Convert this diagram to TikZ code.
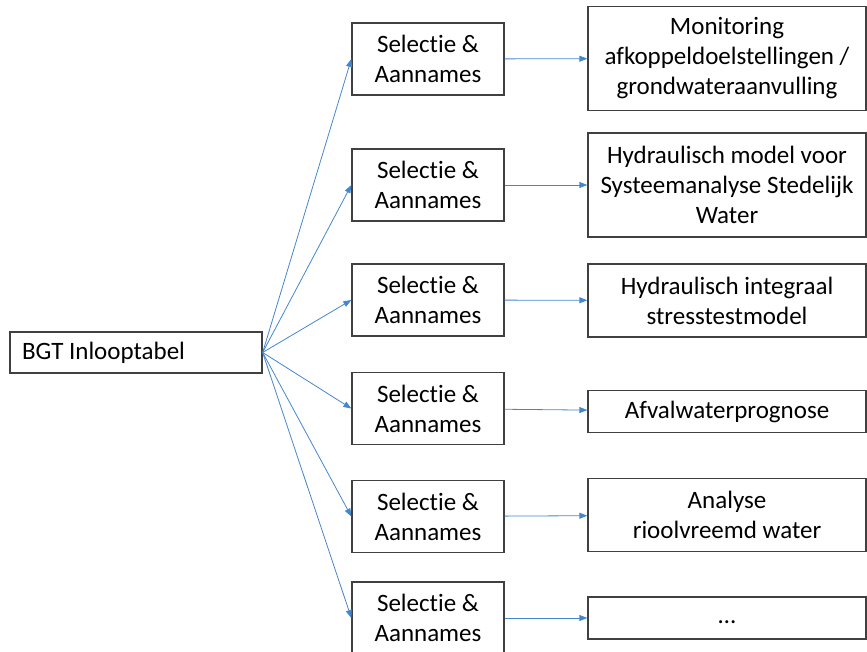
\documentclass[tikz,border=0pt]{standalone}
\usepackage{fontspec}
\setmainfont{Carlito}[Ligatures=NoCommon]
\tikzset{
  box/.style={draw=black!75, line width=1.3pt, inner sep=0pt, align=center,
    font=\fontsize{25}{30}\selectfont},
  sel/.style={box, minimum width=152pt, minimum height=72pt},
  doel/.style={box, minimum width=278pt},
  pijl/.style={->, >={Triangle[length=8pt,width=6pt]}, draw={rgb,255:red,68;green,134;blue,206}, line width=0.8pt}
}
\usetikzlibrary{arrows.meta}
\begin{document}
\begin{tikzpicture}[x=1pt,y=-1pt]
    \useasboundingbox (0,0) rectangle (867,652);
    \node [box, minimum width=252pt, minimum height=41pt] (bgt) at (136,352.5) {\makebox[228pt][l]{BGT Inlooptabel}};
    \node [sel] (s1) at (428,59) {Selectie \&\\Aannames};
    \node [sel] (s2) at (428,185) {Selectie \&\\Aannames};
    \node [sel] (s3) at (428,300) {Selectie \&\\Aannames};
    \node [sel] (s4) at (428,408.5) {Selectie \&\\Aannames};
    \node [sel] (s5) at (428,516.5) {Selectie \&\\Aannames};
    \node [sel] (s6) at (428,618) {Selectie \&\\Aannames};
    \node [doel, minimum height=104pt] (t1) at (727,58.5) {Monitoring\\afkoppeldoelstellingen /\\grondwateraanvulling};
    \node [doel, minimum height=104pt] (t2) at (727,185) {Hydraulisch model voor\\Systeemanalyse Stedelijk\\Water};
    \node [doel, minimum height=73pt] (t3) at (727,300.5) {Hydraulisch integraal\\stresstestmodel};
    \node [doel, minimum height=42pt] (t4) at (727,411.5) {Afvalwaterprognose};
    \node [doel, minimum height=73pt] (t5) at (727,515) {Analyse\\rioolvreemd water};
    \node [doel, minimum height=42pt] (t6) at (727,618) {\vphantom{Ag}\dots};
    % fan
    \draw [pijl] (bgt.east) -- (s1.west);
    \draw [pijl] (bgt.east) -- (s2.west);
    \draw [pijl] (bgt.east) -- (s3.west);
    \draw [pijl] (bgt.east) -- (s4.west);
    \draw [pijl] (bgt.east) -- (s5.west);
    \draw [pijl] (bgt.east) -- (s6.west);
    % rows
    \draw [pijl] (s1) -- (t1);
    \draw [pijl] (s2) -- (t2);
    \draw [pijl] (s3) -- (t3);
    \draw [pijl] (s4) -- (t4);
    \draw [pijl] (s5) -- (t5);
    \draw [pijl] (s6) -- (t6);
  \end{tikzpicture}
\end{document}
